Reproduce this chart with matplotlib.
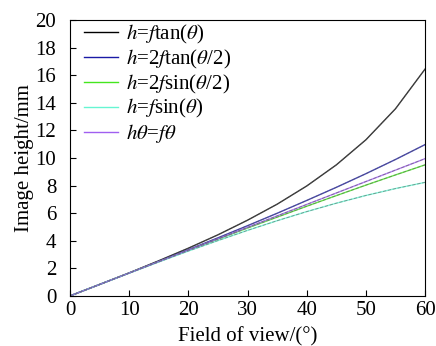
import matplotlib.pyplot as plt

plt.rcParams['font.family'] = ['Liberation Serif', 'DejaVu Serif']
plt.rcParams['mathtext.fontset'] = 'stix'

# Field of view (degrees) and image heights (mm)
fov = [0, 5, 10, 15, 20, 25, 30, 35, 40, 45, 50, 55, 60]
h_tan = [0, 0.83, 1.67, 2.55, 3.46, 4.43, 5.49, 6.65, 7.97, 9.50, 11.32, 13.57, 16.45]
h_2tan = [0, 0.83, 1.66, 2.50, 3.35, 4.21, 5.09, 5.99, 6.92, 7.87, 8.86, 9.89, 10.97]
h_2sin = [0, 0.83, 1.66, 2.48, 3.30, 4.11, 4.92, 5.71, 6.50, 7.27, 8.03, 8.77, 9.50]
h_sin = [0, 0.83, 1.65, 2.46, 3.25, 4.01, 4.75, 5.45, 6.11, 6.72, 7.28, 7.78, 8.23]
h_theta = [0, 0.83, 1.66, 2.49, 3.32, 4.14, 4.97, 5.80, 6.63, 7.46, 8.29, 9.12, 9.95]

series = [
    (h_tan, r'$h$=$f$tan($\theta$)', '#000000'),
    (h_2tan, r'$h$=2$f$tan($\theta$/2)', '#1a1aa6'),
    (h_2sin, r'$h$=2$f$sin($\theta$/2)', '#44e61e'),
    (h_sin, r'$h$=$f$sin($\theta$)', '#66f5d2'),
    (h_theta, r'$h\theta$=$f\theta$', '#a05ff0'),
]

fig = plt.figure(figsize=(4.36, 3.46), dpi=100)
ax = fig.add_axes([0.161, 0.145, 0.814, 0.797])

for y, lab, col in series:
    ax.plot(fov, y, color=col, linewidth=1.0, alpha=0.8, label=lab)
    # faint dashed grey trace on top, as in the scanned figure
    ax.plot(fov, y, color='#555555', linewidth=0.6, linestyle=(0, (4, 2)), alpha=0.6)

ax.set_xlim(0, 60)
ax.set_ylim(0, 20)
ax.set_xticks(range(0, 61, 10))
ax.set_yticks(range(0, 21, 2))
ax.tick_params(direction='in', labelsize=15, length=4, top=False, right=False)
ax.tick_params(axis='x', pad=4)
ax.tick_params(axis='y', pad=10)
ax.set_xlabel('Field of view/(°)', fontsize=15, labelpad=5)
ax.set_ylabel('Image height/mm', fontsize=15, labelpad=1)

leg = ax.legend(loc='upper left', bbox_to_anchor=(0.03, 1.0), frameon=False,
                fontsize=15, handlelength=1.65, labelspacing=0.08,
                borderaxespad=0.0, borderpad=0.15, handletextpad=0.35)
for line in leg.get_lines():
    line.set_alpha(1.0)

fig.savefig('out.png', dpi=100)
